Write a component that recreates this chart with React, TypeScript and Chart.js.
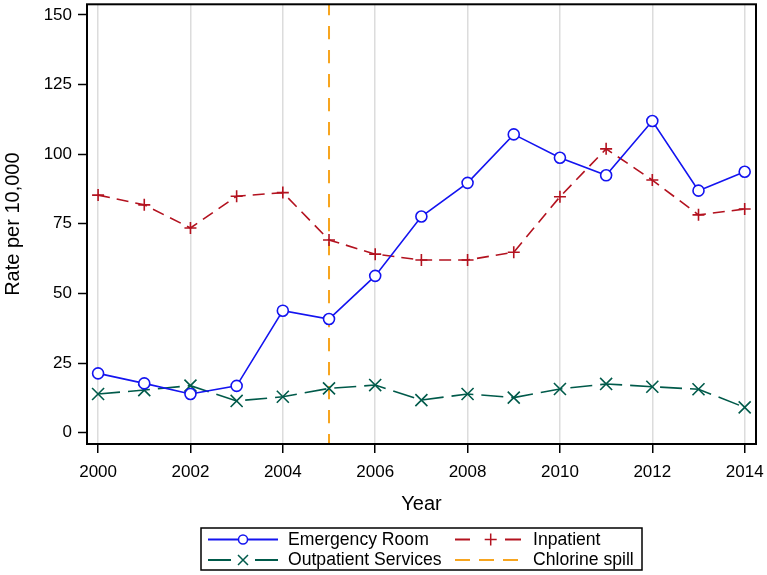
import React, { useEffect, useRef } from 'react';
import { Chart, registerables } from 'chart.js';

Chart.register(...registerables);

const FONT = "'Liberation Sans', Arial, Helvetica, sans-serif";

// data
const years = [2000, 2001, 2002, 2003, 2004, 2005, 2006, 2007, 2008, 2009, 2010, 2011, 2012, 2013, 2014];
const emergencyRoom = [21.3, 17.7, 13.9, 16.8, 43.8, 40.8, 56.3, 77.6, 89.7, 107.1, 98.7, 92.4, 111.9, 86.9, 93.7];
const inpatient = [85.3, 81.8, 73.5, 84.9, 86.2, 69.2, 64.1, 62.0, 62.0, 64.8, 84.7, 101.9, 90.7, 78.2, 80.3];
const outpatient = [13.9, 15.3, 16.9, 11.4, 12.9, 15.9, 17.1, 11.7, 13.9, 12.6, 15.7, 17.5, 16.5, 15.6, 9.1];
const xTicks = [2000, 2002, 2004, 2006, 2008, 2010, 2012, 2014];
const yTicks = [0, 25, 50, 75, 100, 125, 150];
const spillYear = 2005;

const BLUE = '#1414f0';
const RED = '#b3121f';
const GREEN = '#005a4a';
const ORANGE = '#f7a51f';
const SPILL_DASH = [13.3, 10.7];

const toPoints = (vals: number[]) => vals.map((v, i) => ({ x: years[i], y: v }));

const drawMarker = (ctx: CanvasRenderingContext2D, kind: string, mx: number, y: number) => {
  ctx.lineWidth = 1.5;
  ctx.beginPath();
  if (kind === 'circle') {
    ctx.fillStyle = '#fff';
    ctx.arc(mx, y, 4.5, 0, Math.PI * 2);
    ctx.fill();
  } else if (kind === 'cross') {
    ctx.moveTo(mx - 6, y);
    ctx.lineTo(mx + 6, y);
    ctx.moveTo(mx, y - 6);
    ctx.lineTo(mx, y + 6);
  } else if (kind === 'crossRot') {
    ctx.moveTo(mx - 5, y - 5);
    ctx.lineTo(mx + 5, y + 5);
    ctx.moveTo(mx - 5, y + 5);
    ctx.lineTo(mx + 5, y - 5);
  }
  ctx.stroke();
};

// spill reference line, plot frame and the boxed legend below the axis
const extrasPlugin = {
  id: 'extras',
  beforeDatasetsDraw(chart: any) {
    const { ctx, chartArea, scales } = chart;
    const x = scales.x.getPixelForValue(spillYear);
    ctx.save();
    ctx.strokeStyle = ORANGE;
    ctx.lineWidth = 2;
    ctx.setLineDash(SPILL_DASH);
    ctx.lineDashOffset = 2.3;
    ctx.beginPath();
    ctx.moveTo(x, chartArea.top);
    ctx.lineTo(x, chartArea.bottom);
    ctx.stroke();
    ctx.restore();
  },
  afterDraw(chart: any) {
    const { ctx, chartArea } = chart;
    ctx.save();
    ctx.strokeStyle = '#000';
    ctx.lineWidth = 2;
    ctx.strokeRect(chartArea.left, chartArea.top, chartArea.right - chartArea.left, chartArea.bottom - chartArea.top);

    // legend
    const cx = (chartArea.left + chartArea.right) / 2;
    const boxW = 441;
    const boxL = cx - boxW / 2;
    const boxT = 528;
    const boxH = 42;
    ctx.lineWidth = 1.5;
    ctx.strokeRect(boxL, boxT, boxW, boxH);

    const ds = chart.data.datasets;
    // segments are [start, end] offsets of the sample line from its left end
    const items = [
      { label: ds[0].label, color: ds[0].borderColor, segs: [[0, 70]], marker: 'circle', mx: 35, col: 0, row: 0 },
      { label: ds[1].label, color: ds[1].borderColor, segs: [[0, 15], [50, 66]], marker: 'cross', mx: 35.7, col: 1, row: 0 },
      { label: ds[2].label, color: ds[2].borderColor, segs: [[0, 23], [47, 70]], marker: 'crossRot', mx: 35, col: 0, row: 1 },
      { label: 'Chlorine spill', color: ORANGE, segs: [[0, 15], [24, 39], [48, 63]], marker: '', mx: 0, col: 1, row: 1 },
    ];
    const lineX = [boxL + 7, boxL + 254];
    const textX = [boxL + 87, boxL + 332];
    const rowY = [boxT + 11.5, boxT + 32];
    ctx.font = `17.6px ${FONT}`;
    ctx.textBaseline = 'middle';
    items.forEach((it) => {
      const x0 = lineX[it.col];
      const y = rowY[it.row];
      ctx.strokeStyle = it.color;
      ctx.lineWidth = 1.8;
      ctx.beginPath();
      it.segs.forEach(([a, b]) => {
        ctx.moveTo(x0 + a, y);
        ctx.lineTo(x0 + b, y);
      });
      ctx.stroke();
      if (it.marker) drawMarker(ctx, it.marker, x0 + it.mx, y);
      ctx.fillStyle = '#000';
      ctx.textAlign = 'left';
      ctx.fillText(it.label, textX[it.col], y + 0.5);
    });
    ctx.restore();
  },
};

const App = () => {
  const canvasRef = useRef<HTMLCanvasElement>(null);
  const chartRef = useRef<Chart | null>(null);

  useEffect(() => {
    if (!canvasRef.current) return;
    if (chartRef.current) chartRef.current.destroy();

    chartRef.current = new Chart(canvasRef.current, {
      type: 'line',
      data: {
        datasets: [
          {
            label: 'Emergency Room',
            data: toPoints(emergencyRoom),
            borderColor: BLUE,
            borderWidth: 1.6,
            pointStyle: 'circle',
            pointRadius: 5.5,
            pointBorderWidth: 1.6,
            pointBorderColor: BLUE,
            pointBackgroundColor: '#fff',
            tension: 0,
          },
          {
            label: 'Inpatient',
            data: toPoints(inpatient),
            borderColor: RED,
            borderWidth: 1.6,
            borderDash: [12, 7],
            pointStyle: 'cross',
            pointRadius: 6,
            pointBorderWidth: 1.6,
            pointBorderColor: RED,
            tension: 0,
          },
          {
            label: 'Outpatient Services',
            data: toPoints(outpatient),
            borderColor: GREEN,
            borderWidth: 1.6,
            borderDash: [22, 8],
            pointStyle: 'crossRot',
            pointRadius: 8.5,
            pointBorderWidth: 1.6,
            pointBorderColor: GREEN,
            tension: 0,
          },
        ],
      },
      options: {
        animation: false,
        responsive: true,
        maintainAspectRatio: false,
        layout: { autoPadding: false, padding: { top: 4.3, right: 11, left: 0, bottom: 0 } },
        plugins: { legend: { display: false }, tooltip: { enabled: false } },
        scales: {
          x: {
            type: 'linear',
            min: 1999.76,
            max: 2014.245,
            afterBuildTicks: (s: any) => {
              s.ticks = xTicks.map((v) => ({ value: v }));
            },
            afterFit: (s: any) => {
              s.height = 131;
              s.paddingLeft = 0;
              s.paddingRight = 0;
            },
            border: { display: false },
            grid: { color: '#dcdcdc', lineWidth: 1.5, tickColor: '#000', tickLength: 9, tickWidth: 1.5 },
            ticks: { color: '#000', font: { size: 17, family: FONT }, padding: 9, maxRotation: 0, callback: (v: any) => String(v) },
            title: { display: true, text: 'Year', color: '#000', font: { size: 20, family: FONT, lineHeight: 1 }, padding: { top: 0, bottom: 61 } },
          },
          y: {
            type: 'linear',
            min: -4.06,
            max: 153.8,
            afterBuildTicks: (s: any) => {
              s.ticks = yTicks.map((v) => ({ value: v }));
            },
            afterFit: (s: any) => {
              s.width = 87;
              s.paddingTop = 0;
              s.paddingBottom = 0;
            },
            border: { display: false },
            grid: { drawOnChartArea: false, tickColor: '#000', tickLength: 9, tickWidth: 1.5 },
            ticks: { color: '#000', font: { size: 17, family: FONT }, padding: 6, callback: (v: any) => String(v) },
            title: { display: true, text: 'Rate per 10,000', color: '#000', font: { size: 20, family: FONT, lineHeight: 1 }, padding: { top: 3, bottom: 0 } },
          },
        },
      },
      plugins: [extrasPlugin],
    } as any);

    return () => {
      if (chartRef.current) {
        chartRef.current.destroy();
        chartRef.current = null;
      }
    };
  }, []);

  return (
    <div style={{ position: 'fixed', left: 0, top: 0, width: 767, height: 575, background: '#fff' }}>
      <canvas ref={canvasRef} />
    </div>
  );
};

export default App;
